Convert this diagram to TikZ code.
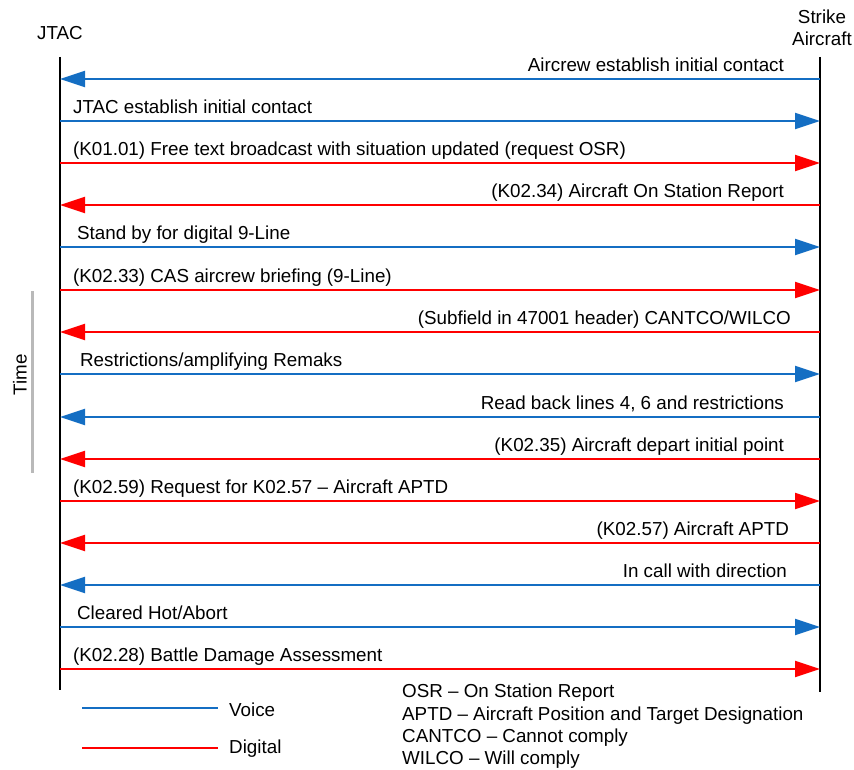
\documentclass[tikz,border=0pt]{standalone}
\usepackage{fontspec}
\setmainfont{Liberation Sans}
\usetikzlibrary{arrows.meta}
\definecolor{voiceblue}{RGB}{20,110,195}
\definecolor{digitalred}{RGB}{255,0,0}
\definecolor{timegray}{RGB}{185,185,185}
\tikzset{
  every node/.style={font=\fontsize{18.8}{22.4}\selectfont, inner sep=0pt},
  lifeline/.style={draw=black, line width=2.6pt},
  voice/.style={draw=voiceblue, line width=2.2pt, -{Triangle[length=25pt,width=16pt]}},
  digital/.style={draw=digitalred, line width=2.2pt, -{Triangle[length=25pt,width=16pt]}},
  fromjtac/.style={pos=0, anchor=base west, xshift=12pt, yshift=7.5pt},
  fromstrike/.style={pos=0, anchor=base east, xshift=-35pt, yshift=7.5pt}
}
\begin{document}
\begin{tikzpicture}[x=1pt, y=-1pt]
      \useasboundingbox (0,0) rectangle (854,770);
      % participants
      \node (jtac) at (60,33) {JTAC};
      \node[align=center] (strike) at (822,28) {Strike\\Aircraft};
      \path
        (60,57) coordinate (jtop)   (60,690) coordinate (jbot)
        (820,57) coordinate (stop)  (820,692) coordinate (sbot);
      \draw[lifeline] (jtop) -- (jbot);
      \draw[lifeline] (stop) -- (sbot);
      % message ends on the lifelines
      \path
        (60,79) coordinate (j1)   (820,79) coordinate (s1)
        (60,121) coordinate (j2)  (820,121) coordinate (s2)
        (60,163) coordinate (j3)  (820,163) coordinate (s3)
        (60,205) coordinate (j4)  (820,205) coordinate (s4)
        (60,247) coordinate (j5)  (820,247) coordinate (s5)
        (60,290) coordinate (j6)  (820,290) coordinate (s6)
        (60,332) coordinate (j7)  (820,332) coordinate (s7)
        (60,374) coordinate (j8)  (820,374) coordinate (s8)
        (60,417) coordinate (j9)  (820,417) coordinate (s9)
        (60,459) coordinate (j10) (820,459) coordinate (s10)
        (60,501) coordinate (j11) (820,501) coordinate (s11)
        (60,543) coordinate (j12) (820,543) coordinate (s12)
        (60,585) coordinate (j13) (820,585) coordinate (s13)
        (60,627) coordinate (j14) (820,627) coordinate (s14)
        (60,669) coordinate (j15) (820,669) coordinate (s15);
      % messages
      \draw[voice] (s1) -- (j1) node[fromstrike] (m1) {Aircrew establish initial contact};
      \draw[voice] (j2) -- (s2) node[fromjtac] (m2) {JTAC establish initial contact};
      \draw[digital] (j3) -- (s3) node[fromjtac] (m3) {(K01.01) Free text broadcast with situation updated (request OSR)};
      \draw[digital] (s4) -- (j4) node[fromstrike] (m4) {(K02.34) Aircraft On Station Report};
      \draw[voice] (j5) -- (s5) node[fromjtac, xshift=4pt] (m5) {Stand by for digital 9-Line};
      \draw[digital] (j6) -- (s6) node[fromjtac] (m6) {(K02.33) CAS aircrew briefing (9-Line)};
      \draw[digital] (s7) -- (j7) node[fromstrike, xshift=7pt] (m7) {(Subfield in 47001 header) CANTCO/WILCO};
      \draw[voice] (j8) -- (s8) node[fromjtac, xshift=7pt] (m8) {Restrictions/amplifying Remaks};
      \draw[voice] (s9) -- (j9) node[fromstrike] (m9) {Read back lines 4, 6 and restrictions};
      \draw[digital] (s10) -- (j10) node[fromstrike] (m10) {(K02.35) Aircraft depart initial point};
      \draw[digital] (j11) -- (s11) node[fromjtac] (m11) {(K02.59) Request for K02.57 -- Aircraft APTD};
      \draw[digital] (s12) -- (j12) node[fromstrike, xshift=5pt] (m12) {(K02.57) Aircraft APTD};
      \draw[voice] (s13) -- (j13) node[fromstrike, xshift=3pt] (m13) {In call with direction};
      \draw[voice] (j14) -- (s14) node[fromjtac, xshift=4pt] (m14) {Cleared Hot/Abort};
      \draw[digital] (j15) -- (s15) node[fromjtac] (m15) {(K02.28) Battle Damage Assessment};
      % time axis
      \path (32,291) coordinate (ttop) (32,473) coordinate (tbot);
      \draw[draw=timegray, line width=3pt] (ttop) -- (tbot);
      \node[rotate=90] (time) at (20,375) {Time};
      % legend
      \path
        (82,708) coordinate (va) (218,708) coordinate (vb)
        (82,748) coordinate (da) (218,748) coordinate (db);
      \draw[draw=voiceblue, line width=2.2pt] (va) -- (vb);
      \draw[draw=digitalred, line width=2.2pt] (da) -- (db);
      \node[anchor=west] (voicelbl) at (229,710) {Voice};
      \node[anchor=west] (digitallbl) at (229,749) {Digital};
      \node[anchor=north west, align=left,
            font=\fontsize{18.8}{22.2}\selectfont] (abbrev) at (402,684)
        {OSR -- On Station Report\\
         APTD -- Aircraft Position and Target Designation\\
         CANTCO -- Cannot comply\\
         WILCO -- Will comply};
    \end{tikzpicture}
\end{document}
